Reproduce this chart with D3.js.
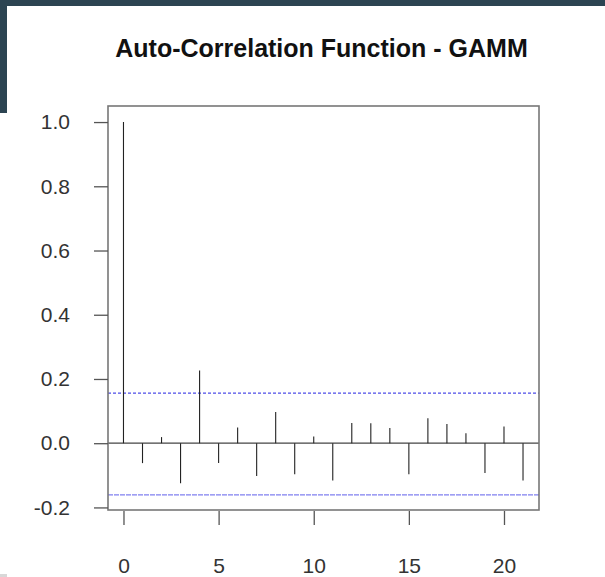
<!DOCTYPE html>
<html>
<head>
<meta charset="utf-8">
<script src="https://cdn.jsdelivr.net/npm/d3@7"></script>
<style>
  html, body { margin: 0; padding: 0; background: #fff; }
  svg { display: block; }
</style>
</head>
<body>
<svg id="chart" width="605" height="577"></svg>
<script>
// Autocorrelation of GAMM residuals, lags 0..21
const lags = d3.range(0, 22);
const acfValues = [1.0, -0.062, 0.019, -0.125, 0.226, -0.062, 0.049, -0.102,
                   0.097, -0.097, 0.021, -0.116, 0.063, 0.062, 0.047, -0.097,
                   0.078, 0.060, 0.031, -0.093, 0.052, -0.116];
// approximate 95% confidence bounds
const ciUpper = 0.156;
const ciLower = -0.161;

const yTickValues = [-0.2, 0.0, 0.2, 0.4, 0.6, 0.8, 1.0];
const yTickLabels = ["-0.2", "0.0", "0.2", "0.4", "0.6", "0.8", "1.0"];
const xTickValues = [0, 5, 10, 15, 20];
const xTickLabels = ["0", "5", "10", "15", "20"];
const titleText = "Auto-Correlation Function - GAMM";

const svg = d3.select("#chart");
const box = { left: 108, right: 539, top: 106, bottom: 510 };

// dark frame strips along the top and upper left
svg.append("rect").attr("x", 0).attr("y", 0).attr("width", 605).attr("height", 6).attr("fill", "#2c4452");
svg.append("rect").attr("x", 0).attr("y", 0).attr("width", 7).attr("height", 113).attr("fill", "#2c4452");
svg.append("rect").attr("x", 0).attr("y", 574).attr("width", 7).attr("height", 3).attr("fill", "#d8d8d8");

const x = d3.scaleLinear().domain([-0.84, 21.84]).range([box.left - 0.5, box.right]);
const y = d3.scaleLinear().domain([-0.208, 1.05]).range([box.bottom, box.top]);

const font = "'Liberation Sans', Arial, Helvetica, sans-serif";

// title
svg.append("text")
  .attr("x", (box.left + box.right) / 2 - 2)
  .attr("y", 57)
  .attr("text-anchor", "middle")
  .attr("font-family", font)
  .attr("font-weight", "bold")
  .attr("font-size", 25)
  .attr("fill", "#111")
  .text(titleText);

// confidence bounds
[ciUpper, ciLower].forEach((v, i) => {
  svg.append("line")
    .attr("x1", box.left).attr("x2", box.right)
    .attr("y1", y(v)).attr("y2", y(v))
    .attr("stroke", i === 0 ? "#4d4de8" : "#8080f0")
    .attr("stroke-width", 1.3)
    .attr("stroke-dasharray", i === 0 ? "3,2" : "5,1");
});

// zero line (continues into the 0.0 tick)
svg.append("line")
  .attr("x1", box.left).attr("x2", box.right)
  .attr("y1", y(0)).attr("y2", y(0))
  .attr("stroke", "#444").attr("stroke-width", 1.2);

// spikes
svg.append("g").selectAll("line")
  .data(lags)
  .join("line")
  .attr("x1", d => x(d)).attr("x2", d => x(d))
  .attr("y1", y(0)).attr("y2", d => y(acfValues[d]))
  .attr("stroke", "#222").attr("stroke-width", 1.1);

// plot frame
svg.append("rect")
  .attr("x", box.left).attr("y", box.top)
  .attr("width", box.right - box.left).attr("height", box.bottom - box.top)
  .attr("fill", "none").attr("stroke", "#777").attr("stroke-width", 1.6);

// axes
const yAxis = d3.axisLeft(y)
  .tickValues(yTickValues)
  .tickFormat((d, i) => yTickLabels[i])
  .tickSize(14).tickPadding(24);
const xAxis = d3.axisBottom(x)
  .tickValues(xTickValues)
  .tickFormat((d, i) => xTickLabels[i])
  .tickSize(14).tickPadding(33);

function styleAxis(g) {
  g.select(".domain").remove();
  g.selectAll(".tick line").attr("stroke", "#555").attr("stroke-width", 1.3);
  g.selectAll(".tick text")
    .attr("font-family", font)
    .attr("font-size", 21)
    .attr("fill", "#333");
}

svg.append("g").attr("transform", `translate(${box.left},0)`).call(yAxis).call(styleAxis);
svg.append("g").attr("transform", `translate(0,${box.bottom + 1})`).call(xAxis).call(styleAxis);
</script>
</body>
</html>
